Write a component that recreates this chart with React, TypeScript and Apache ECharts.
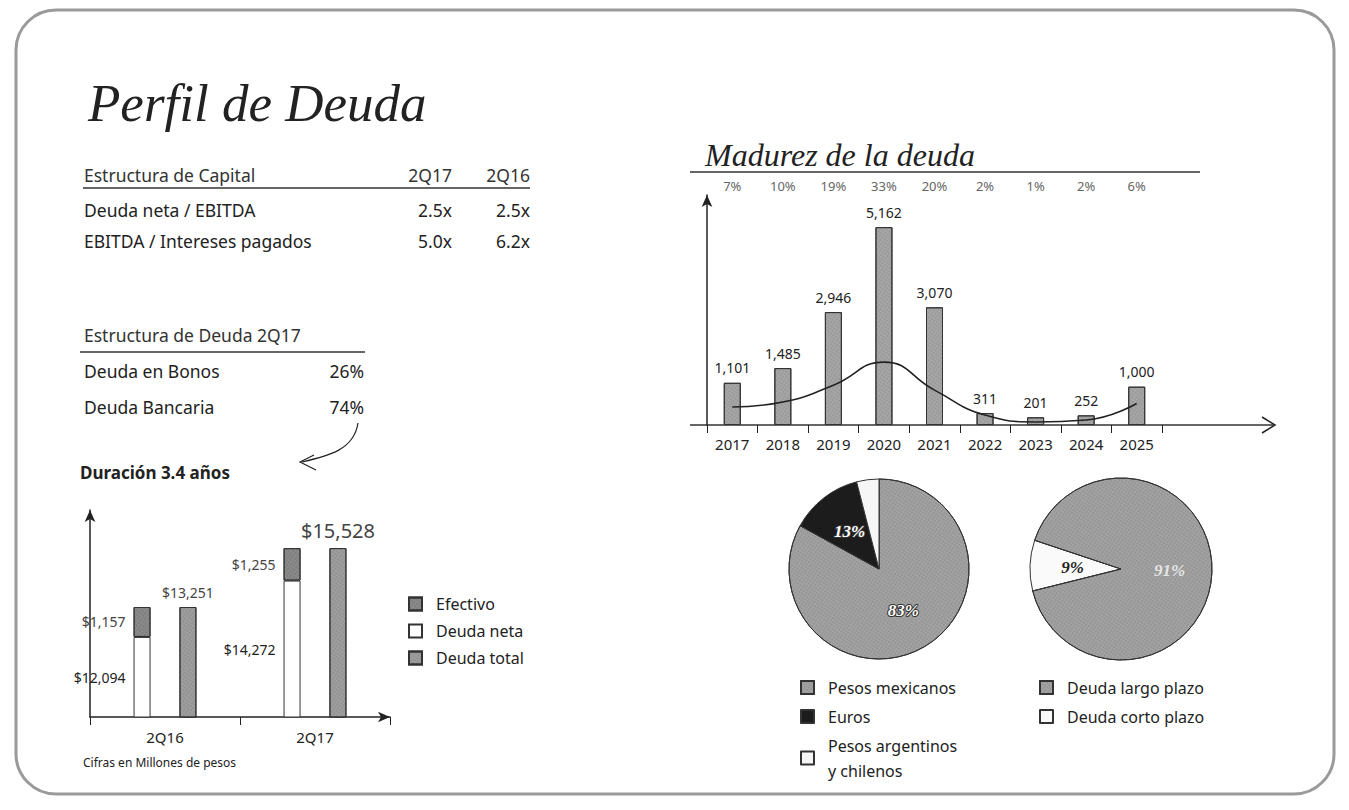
import React, { useEffect, useRef } from 'react';
import * as echarts from 'echarts';

const capitalTitle = 'Estructura de Capital';
const capitalPeriods = ['2Q17', '2Q16'];
const capitalLabels = ['Deuda neta / EBITDA', 'EBITDA / Intereses pagados'];
const capital2Q17 = ['2.5x', '5.0x'];
const capital2Q16 = ['2.5x', '6.2x'];

const deudaTitle = 'Estructura de Deuda 2Q17';
const deudaLabels = ['Deuda en Bonos', 'Deuda Bancaria'];
const deudaValues = ['26%', '74%'];

const periods = ['2Q16', '2Q17'];
const deudaNeta = [12094, 14272];
const efectivo = [1157, 1255];
const deudaTotal = [13251, 15528];

const years = ['2017', '2018', '2019', '2020', '2021', '2022', '2023', '2024', '2025'];
const maturity = [1101, 1485, 2946, 5162, 3070, 311, 201, 252, 1000];
const maturityPct = ['7%', '10%', '19%', '33%', '20%', '2%', '1%', '2%', '6%'];
const trend = [470, 600, 1040, 1640, 910, 260, 80, 130, 560];

const currencyNames = ['Pesos mexicanos', 'Euros', 'Pesos argentinos y chilenos'];
const currencyShares = [83, 13, 4];
const termNames = ['Deuda corto plazo', 'Deuda largo plazo'];
const termShares = [9, 91];

const SANS = '"Noto Sans", Lato, sans-serif';
const SCRIPT = '"Liberation Serif", serif';
const INK = '#222';

const texture = (alpha: number) => ({
  symbol: 'rect',
  symbolSize: 0.6,
  color: `rgba(0,0,0,${alpha})`,
  dashArrayX: [2, 1],
  dashArrayY: [2, 1],
  rotation: 0.6,
});

const fmt$ = (v: number) => '$' + v.toLocaleString('en-US');

function txt(x: number, y: number, text: string, font: string, align = 'left', fill = INK) {
  return {
    type: 'text',
    x,
    y,
    style: { text, font, fill, textAlign: align, textVerticalAlign: 'middle', align, verticalAlign: 'middle' },
  };
}

function hline(x1: number, x2: number, y: number, w = 1.5) {
  return { type: 'line', shape: { x1, y1: y, x2, y2: y }, style: { stroke: '#333', lineWidth: w } };
}

export default function App() {
  const ref = useRef<HTMLDivElement>(null);
  useEffect(() => {
    if (!ref.current) return;
    const chart = echarts.init(ref.current, undefined, { renderer: 'svg' });
    const TF = `17.5px ${SANS}`;

    const graphics: any[] = [
      {
        type: 'rect',
        shape: { x: 16, y: 10, width: 1318, height: 784, r: 40 },
        style: { fill: 'none', stroke: '#9a9a9a', lineWidth: 3 },
      },
      txt(88, 103, 'Perfil de Deuda', `italic 53px ${SCRIPT}`),
      txt(84, 175, capitalTitle, TF, 'left', '#333'),
      txt(452, 175, capitalPeriods[0], TF, 'right', '#333'),
      txt(530, 175, capitalPeriods[1], TF, 'right', '#333'),
      hline(83, 530, 188),
      txt(84, 335, deudaTitle, TF, 'left', '#333'),
      hline(80, 365, 352),
      txt(80, 472, 'Duración 3.4 años', `bold 17px ${SANS}`),
      {
        type: 'bezierCurve',
        shape: { x1: 358, y1: 423, cpx1: 354, cpy1: 450, cpx2: 328, cpy2: 456, x2: 302, y2: 462 },
        style: { stroke: '#222', lineWidth: 1.2, fill: 'none' },
      },
      {
        type: 'polyline',
        shape: { points: [[314, 455], [300, 462], [316, 470]] },
        style: { stroke: '#222', lineWidth: 1.2, fill: 'none' },
      },
      txt(83, 762, 'Cifras en Millones de pesos', `12px ${SANS}`),
      txt(705, 155, 'Madurez de la deuda', `italic 32px ${SCRIPT}`),
      hline(690, 1200, 172),
      hline(690, 1273, 425, 1.5),
      {
        type: 'polyline',
        shape: { points: [[1262, 417], [1275, 425], [1262, 433]] },
        style: { stroke: '#222', lineWidth: 1.5, fill: 'none' },
      },
    ];
    capitalLabels.forEach((l, i) => {
      const y = 210 + i * 31;
      graphics.push(txt(84, y, l, TF));
      graphics.push(txt(452, y, capital2Q17[i], TF, 'right'));
      graphics.push(txt(530, y, capital2Q16[i], TF, 'right'));
    });
    deudaLabels.forEach((l, i) => {
      const y = 371 + i * 36;
      graphics.push(txt(84, y, l, TF));
      graphics.push(txt(364, y, deudaValues[i], TF, 'right'));
    });

    const legendText = { fontFamily: SANS, fontSize: 16, color: INK, padding: [0, 0, 0, 9] };

    chart.setOption({
      animation: false,
      graphic: graphics,
      grid: [
        { left: 90, top: 510, width: 300, height: 207 },
        { left: 707, top: 195, width: 455, height: 230 },
      ],
      xAxis: [
        {
          type: 'category',
          gridIndex: 0,
          data: periods,
          axisLine: { lineStyle: { color: INK, width: 1.5 }, symbol: ['none', 'arrow'], symbolSize: [8, 12] },
          axisTick: { show: true, inside: false, length: 8, lineStyle: { color: INK } },
          axisLabel: { color: INK, fontFamily: SANS, fontSize: 15, margin: 12 },
        },
        {
          type: 'category',
          gridIndex: 1,
          data: years,
          axisLine: { show: false },
          axisTick: { show: true, length: 8, lineStyle: { color: INK } },
          axisLabel: { color: INK, fontFamily: SANS, fontSize: 15, margin: 11 },
        },
        {
          type: 'category',
          gridIndex: 1,
          position: 'top',
          data: maturityPct,
          axisLine: { show: false },
          axisTick: { show: false },
          axisLabel: { color: '#666', fontFamily: SANS, fontSize: 13, margin: 3 },
        },
      ],
      yAxis: [
        {
          type: 'value',
          gridIndex: 0,
          min: 9000,
          max: 17000,
          axisLine: { show: true, lineStyle: { color: INK, width: 1.5 }, symbol: ['none', 'arrow'], symbolSize: [8, 12] },
          axisTick: { show: false },
          axisLabel: { show: false },
          splitLine: { show: false },
        },
        {
          type: 'value',
          gridIndex: 1,
          min: 0,
          max: 6000,
          axisLine: { show: true, lineStyle: { color: INK, width: 1.5 }, symbol: ['none', 'arrow'], symbolSize: [8, 12] },
          axisTick: { show: false },
          axisLabel: { show: false },
          splitLine: { show: false },
        },
      ],
      legend: [
        {
          data: ['Efectivo', 'Deuda neta', 'Deuda total'],
          orient: 'vertical',
          left: 403,
          top: 589,
          icon: 'rect',
          itemWidth: 13,
          itemHeight: 13,
          itemGap: 7,
          textStyle: { ...legendText, lineHeight: 20 },
        },
        {
          data: currencyNames,
          orient: 'vertical',
          left: 795,
          top: 670,
          icon: 'rect',
          itemWidth: 13,
          itemHeight: 13,
          itemGap: 4,
          textStyle: { ...legendText, lineHeight: 25 },
          formatter: (n: string) => (n === 'Pesos argentinos y chilenos' ? 'Pesos argentinos\ny chilenos' : n),
        },
        {
          data: ['Deuda largo plazo', 'Deuda corto plazo'],
          orient: 'vertical',
          left: 1034,
          top: 670,
          icon: 'rect',
          itemWidth: 13,
          itemHeight: 13,
          itemGap: 4,
          textStyle: { ...legendText, lineHeight: 25 },
        },
      ],
      series: [
        {
          name: 'Deuda neta',
          type: 'bar',
          xAxisIndex: 0,
          yAxisIndex: 0,
          stack: 'a',
          barWidth: 17,
          barGap: '170%',
          data: deudaNeta,
          itemStyle: { color: '#fff', borderColor: '#333', borderWidth: 1 },
          label: { show: true, position: 'left', distance: 8, formatter: (p: any) => fmt$(p.value), fontFamily: SANS, fontSize: 14, color: INK },
        },
        {
          name: 'Efectivo',
          type: 'bar',
          xAxisIndex: 0,
          yAxisIndex: 0,
          stack: 'a',
          barWidth: 17,
          data: efectivo,
          itemStyle: { color: '#8c8c8c', borderColor: '#333', borderWidth: 1, decal: texture(0.35) },
          label: { show: true, position: 'left', distance: 8, formatter: (p: any) => fmt$(p.value), fontFamily: SANS, fontSize: 14, color: '#444' },
        },
        {
          name: 'Deuda total',
          type: 'bar',
          xAxisIndex: 0,
          yAxisIndex: 0,
          barWidth: 17,
          data: deudaTotal.map((v, i) => (i === 1 ? { value: v, label: { fontSize: 20 } } : v)),
          itemStyle: { color: '#a0a0a0', borderColor: '#333', borderWidth: 1, decal: texture(0.3) },
          label: { show: true, position: 'top', distance: 8, formatter: (p: any) => fmt$(p.value), fontFamily: SANS, fontSize: 14, color: '#444' },
        },
        {
          name: 'Vencimientos',
          type: 'bar',
          xAxisIndex: 1,
          yAxisIndex: 1,
          barWidth: 17,
          data: maturity,
          itemStyle: { color: '#a8a8a8', borderColor: '#333', borderWidth: 1, decal: texture(0.3) },
          label: { show: true, position: 'top', distance: 8, formatter: (p: any) => p.value.toLocaleString('en-US'), fontFamily: SANS, fontSize: 14, color: INK },
        },
        {
          name: 'Tendencia',
          type: 'line',
          xAxisIndex: 1,
          yAxisIndex: 1,
          data: trend,
          smooth: 0.5,
          symbol: 'none',
          lineStyle: { color: INK, width: 1.6 },
          z: 5,
        },
        {
          name: 'Moneda',
          type: 'pie',
          center: [879, 569],
          radius: 90,
          startAngle: 90,
          data: currencyNames.map((n, i) => ({
            name: n,
            value: currencyShares[i],
            itemStyle: i === 0 ? { decal: texture(0.3) } : {},
            label: i === 2 ? { color: '#222', textBorderWidth: 0, fontSize: 13 } : {},
          })),
          color: ['#a4a4a4', '#1c1c1c', '#f6f6f6'],
          itemStyle: { borderColor: '#333', borderWidth: 1 },
          label: {
            show: true,
            position: 'inside',
            formatter: '{c}%',
            fontFamily: SCRIPT,
            fontStyle: 'italic',
            fontWeight: 'bold',
            fontSize: 17,
            color: '#fff',
            textBorderColor: '#333',
            textBorderWidth: 2,
          },
          labelLine: { show: false },
        },
        {
          name: 'Plazo',
          type: 'pie',
          center: [1121, 569],
          radius: 91,
          startAngle: 194,
          data: termNames.map((n, i) => ({
            name: n,
            value: termShares[i],
            itemStyle: i === 1 ? { decal: texture(0.3) } : {},
            label: i === 1 ? { color: '#e6e6e6', textBorderColor: '#999', textBorderWidth: 1 } : {},
          })),
          color: ['#fafafa', '#a4a4a4'],
          itemStyle: { borderColor: '#333', borderWidth: 1 },
          label: {
            show: true,
            position: 'inside',
            formatter: '{c}%',
            fontFamily: SCRIPT,
            fontStyle: 'italic',
            fontWeight: 'bold',
            fontSize: 17,
            color: '#222',
          },
          labelLine: { show: false },
        },
      ],
    });
    return () => chart.dispose();
  }, []);
  return <div ref={ref} style={{ position: 'fixed', left: 0, top: 0, width: 1349, height: 810, background: '#fff' }} />;
}
